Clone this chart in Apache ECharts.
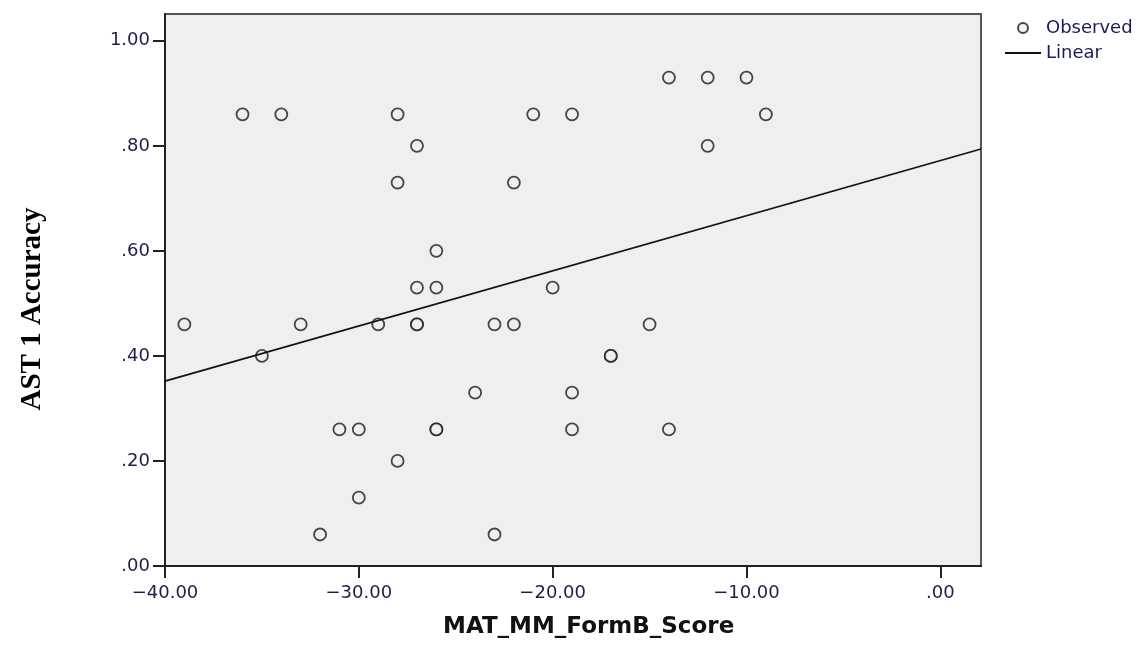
<!DOCTYPE html>
<html><head><meta charset="utf-8">
<script src="https://cdn.jsdelivr.net/npm/echarts@6/dist/echarts.min.js"></script>
<style>html,body{margin:0;padding:0;background:#fff}#c{width:1140px;height:656px}</style>
</head><body><div id="c"></div>
<script>
const scoreX = [-39,-36,-34,-35,-33,-32,-31,-30,-30,-29,-28,-28,-28,-27,-27,-27,-27,-26,-26,-26,-26,-24,-23,-23,-22,-22,-21,-20,-19,-19,-19,-17,-17,-15,-14,-14,-12,-12,-10,-9];
const accuracyY = [0.46,0.86,0.86,0.40,0.46,0.06,0.26,0.26,0.13,0.46,0.86,0.73,0.20,0.80,0.53,0.46,0.46,0.60,0.53,0.26,0.26,0.33,0.46,0.06,0.73,0.46,0.86,0.53,0.86,0.33,0.26,0.40,0.40,0.46,0.93,0.26,0.93,0.80,0.93,0.86];
const fitX = [-40, 2.1];
const fitY = [0.352, 0.794];
const xTicks = [-40, -30, -20, -10, 0];
const yTicks = [0, 0.2, 0.4, 0.6, 0.8, 1.0];

const chart = echarts.init(document.getElementById('c'), null, {renderer:'canvas'});
const tickFont = {fontFamily:'DejaVu Sans', fontSize:18, color:'#1e1e48'};
const near = (v, arr) => arr.some(t => Math.abs(t - v) < 1e-6);
chart.setOption({
  animation:false,
  backgroundColor:'#ffffff',
  grid:{left:165, right:159, top:14, bottom:90, show:true, backgroundColor:'#efefef', borderColor:'#555', borderWidth:2},
  legend:{
    left:999, top:13, orient:'vertical', itemWidth:36, itemHeight:10, itemGap:5,
    textStyle:{fontFamily:'DejaVu Sans', fontSize:18, lineHeight:20, color:'#1a1a5e'},
    data:[{name:'Observed'}, {name:'Linear', itemStyle:{opacity:0}}]
  },
  xAxis:{
    type:'value', min:-40, max:2.1, interval:10,
    splitLine:{show:false},
    axisLine:{show:true, onZero:false, lineStyle:{color:'#222', width:2}},
    axisTick:{show:true, length:12, lineStyle:{color:'#222', width:2}},
    axisLabel:{...tickFont, margin:18, showMaxLabel:false,
      formatter:v => near(v, xTicks) ? (v === 0 ? '.00' : v.toFixed(2).replace('-', '\u2212')) : ''}
  },
  yAxis:{
    type:'value', min:0, max:1.051, interval:0.2,
    splitLine:{show:false},
    axisLine:{show:true, onZero:false, lineStyle:{color:'#222', width:2}},
    axisTick:{show:true, length:12, lineStyle:{color:'#222', width:2}},
    axisLabel:{...tickFont, margin:15, showMaxLabel:false,
      formatter:v => near(v, yTicks) ? v.toFixed(2).replace(/^0/, '') : ''}
  },
  graphic:[
    {type:'text', left:443, top:616, style:{text:'MAT_MM_FormB_Score', fontFamily:'DejaVu Sans', fontWeight:'bold', fontSize:23, fill:'#111'}},
    {type:'text', x:33, y:309, rotation:Math.PI/2, style:{text:'AST 1 Accuracy', fontFamily:'Liberation Serif', fontWeight:'bold', fontSize:29, fill:'#000', align:'center', verticalAlign:'middle'}}
  ],
  series:[
    {name:'Observed', type:'scatter', symbol:'circle', symbolSize:12,
     itemStyle:{color:'#efefef', borderColor:'#1a1a1a', borderWidth:1.8},
     data:scoreX.map((x,i)=>[x, accuracyY[i]])},
    {name:'Linear', type:'line', showSymbol:false, symbol:'none',
     itemStyle:{color:'#111'},
     lineStyle:{color:'#111', width:1.7},
     data:fitX.map((x,i)=>[x, fitY[i]])}
  ]
});
</script></body></html>
